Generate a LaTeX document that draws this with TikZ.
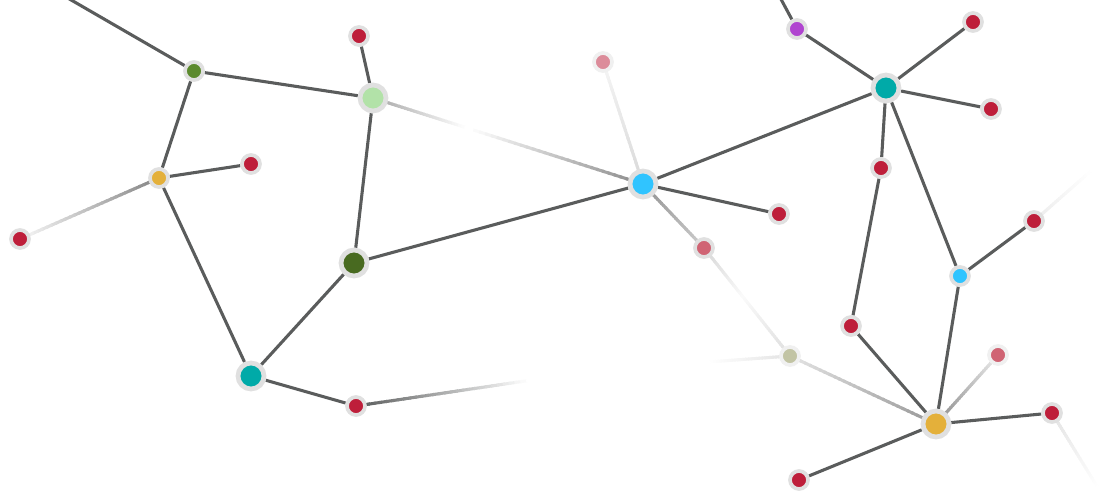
\documentclass[tikz,border=0pt]{standalone}
\usetikzlibrary{calc, backgrounds}

\definecolor{edgegray}{RGB}{90,92,92}
\definecolor{halogray}{RGB}{224,224,224}
\definecolor{halofaint}{RGB}{240,240,240}
\definecolor{cred}{RGB}{190,30,58}
\definecolor{cyellow}{RGB}{228,176,58}
\definecolor{colive}{RGB}{92,138,46}
\definecolor{clightgreen}{RGB}{178,226,168}
\definecolor{cdarkgreen}{RGB}{72,106,32}
\definecolor{cteal}{RGB}{0,170,168}
\definecolor{cblue}{RGB}{48,196,255}
\definecolor{cpurple}{RGB}{176,68,208}
\definecolor{cpink}{RGB}{208,100,116}
\definecolor{cpalepink}{RGB}{220,140,154}
\definecolor{cgrayolive}{RGB}{194,196,164}

% edge whose colour runs from #3 at (#1) to #4 at (#2)
\newcommand{\gradedge}[4]{%
  \colorlet{gradfrom}{#3}\colorlet{gradto}{#4}%
  \foreach \k in {0,...,29}{%
    \pgfmathtruncatemacro{\p}{100-\k*100/29}%
    \draw[line width=1.75pt, gradfrom!\p!gradto] ($(#1)!\k/30!(#2)$) -- ($(#1)!\k/30+1.4/30!(#2)$);
  }}

\begin{document}
\begin{tikzpicture}[
    x=0.02cm, y=-0.02cm,
    link/.style={draw=edgegray, line width=1.75pt},
    small/.style={circle, draw=halogray, line width=2.1pt, inner sep=0pt, minimum size=0.36cm},
    big/.style={circle, draw=halogray, line width=2.7pt, inner sep=0pt, minimum size=0.52cm},
    faint/.style={draw=halofaint}
]
    \useasboundingbox (0,0) rectangle (1100,500);
    \clip (0,0) rectangle (1100,500);

    % nodes on the left
    \node[small, fill=colive]      at (194,71)  (olive) {};
    \node[big, fill=clightgreen]   at (373,98)  (lightgreen) {};
    \node[small, fill=cred]        at (359,36)  (redtop) {};
    \node[small, fill=cyellow]     at (159,178) (yellowleft) {};
    \node[small, fill=cred]        at (251,164) (redmid) {};
    \node[small, fill=cred]        at (20,239)  (redleft) {};
    \node[big, fill=cdarkgreen]    at (354,263) (darkgreen) {};
    \node[big, fill=cteal]         at (251,376) (tealleft) {};
    \node[small, fill=cred]        at (356,406) (redlow) {};

    % nodes in the middle
    \node[big, fill=cblue]         at (643,184) (bluemid) {};
    \node[small, faint, fill=cpalepink] at (603,62) (palepink) {};
    \node[small, fill=cred]        at (779,214) (redblue) {};
    \node[small, fill=cpink]       at (704,248) (pinkmid) {};
    \node[small, faint, fill=cgrayolive] at (790,356) (grayolive) {};

    % nodes on the right
    \node[small, fill=cpurple]     at (797,29)  (purple) {};
    \node[big, fill=cteal]         at (886,88)  (tealright) {};
    \node[small, fill=cred]        at (973,22)  (redne) {};
    \node[small, fill=cred]        at (991,109) (rede) {};
    \node[small, fill=cred]        at (881,168) (redupper) {};
    \node[small, fill=cblue]       at (960,276) (blueright) {};
    \node[small, fill=cred]        at (1034,221) (redfar) {};
    \node[small, fill=cred]        at (851,326) (redlower) {};
    \node[small, faint, fill=cpink] at (998,355) (pinkright) {};
    \node[big, fill=cyellow]       at (936,424) (yellowright) {};
    \node[small, fill=cred]        at (1052,413) (redse) {};
    \node[small, fill=cred]        at (799,480) (redbottom) {};

    % loose ends
    \coordinate (offnw) at (40,-18);
    \coordinate (offn) at (775,-12);
    \coordinate (endlow) at (532,380);
    \coordinate (endleft) at (708,362);
    \coordinate (endne) at (1092,170);
    \coordinate (endse) at (1098,488);
    \coordinate (midfade) at ($(lightgreen)!0.35!(bluemid)$);
    \coordinate (pinkfade) at ($(pinkmid)!0.45!(grayolive)$);

    \begin{scope}[on background layer]
        \gradedge{yellowleft}{redleft}{gray!95}{gray!8}
        \gradedge{lightgreen}{midfade}{gray!70}{white}
        \gradedge{midfade}{bluemid}{white}{gray!90}
        \gradedge{redlow}{endlow}{edgegray}{white}
        \gradedge{bluemid}{palepink}{gray!30}{gray!8}
        \gradedge{bluemid}{pinkmid}{gray!85}{gray!40}
        \gradedge{pinkmid}{pinkfade}{gray!32}{gray!4}
        \gradedge{pinkfade}{grayolive}{gray!4}{gray!25}
        \gradedge{grayolive}{endleft}{gray!22}{white}
        \gradedge{grayolive}{yellowright}{gray!22}{gray!80}
        \gradedge{yellowright}{pinkright}{gray!90}{gray!18}
        \gradedge{redfar}{endne}{gray!15}{white}
        \gradedge{redse}{endse}{gray!22}{white}

        \draw[link] (offnw) -- (olive);
        \draw[link] (olive) -- (lightgreen);
        \draw[link] (olive) -- (yellowleft);
        \draw[link] (yellowleft) -- (redmid);
        \draw[link] (yellowleft) -- (tealleft);
        \draw[link] (lightgreen) -- (redtop);
        \draw[link] (lightgreen) -- (darkgreen);
        \draw[link] (darkgreen) -- (bluemid);
        \draw[link] (darkgreen) -- (tealleft);
        \draw[link] (tealleft) -- (redlow);
        \draw[link] (bluemid) -- (redblue);
        \draw[link] (bluemid) -- (tealright);
        \draw[link] (offn) -- (purple);
        \draw[link] (purple) -- (tealright);
        \draw[link] (tealright) -- (redne);
        \draw[link] (tealright) -- (rede);
        \draw[link] (tealright) -- (redupper);
        \draw[link] (tealright) -- (blueright);
        \draw[link] (redupper) -- (redlower);
        \draw[link] (redlower) -- (yellowright);
        \draw[link] (blueright) -- (yellowright);
        \draw[link] (blueright) -- (redfar);
        \draw[link] (yellowright) -- (redse);
        \draw[link] (yellowright) -- (redbottom);
    \end{scope}
\end{tikzpicture}
\end{document}
